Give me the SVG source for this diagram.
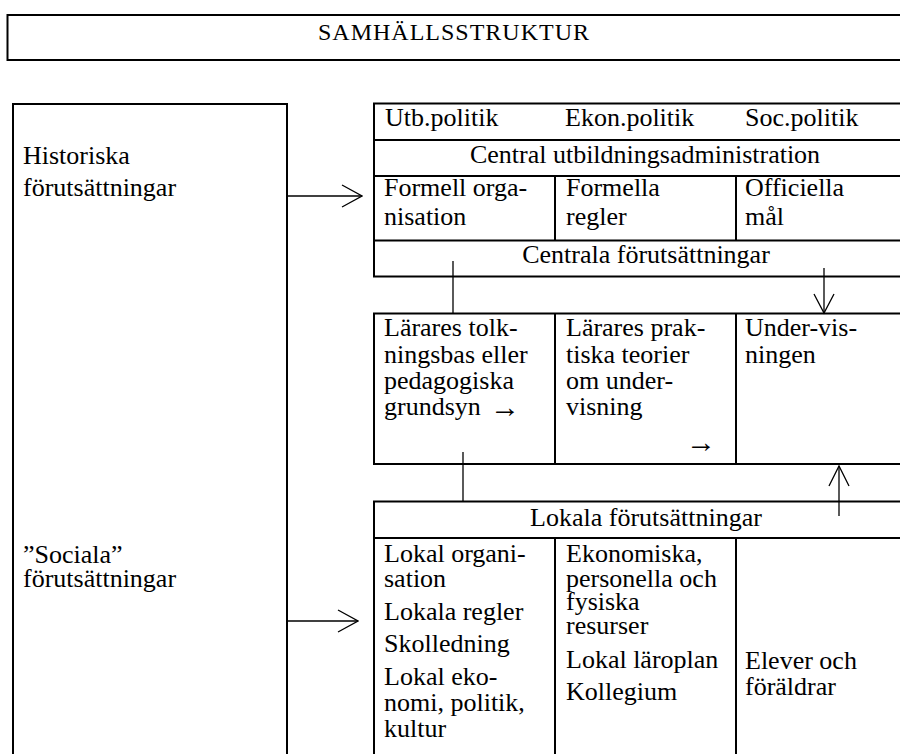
<svg xmlns="http://www.w3.org/2000/svg" width="900" height="754" viewBox="0 0 900 754">
<style>
  .box { fill: #ffffff; stroke: #000000; stroke-width: 2; }
  .div { stroke: #000000; stroke-width: 2; fill: none; }
  .con { stroke: #000000; stroke-width: 1.3; fill: none; }
  .mid { text-anchor: middle; }
  .arr { font-size: 30px; }
</style>
<defs>
  <marker id="chev" viewBox="0 0 22 24" markerWidth="22" markerHeight="24" refX="21" refY="12" orient="auto" markerUnits="userSpaceOnUse">
    <path d="M1,1 L21,12 L1,23" fill="none" stroke="#000000" stroke-width="1.3"/>
  </marker>
</defs>
<rect width="900" height="754" fill="#ffffff"/>

<g font-family="'Liberation Serif', 'Times New Roman', 'DejaVu Serif', serif" font-size="26" fill="#000000">

<g id="samhallsstruktur">
  <rect class="box" x="7.5" y="15" width="900" height="45"/>
  <text class="mid" x="454" y="40" font-size="24" letter-spacing="1">SAMHÄLLSSTRUKTUR</text>
</g>

<g id="forutsattningar-vanster">
  <rect class="box" x="13" y="104" width="274" height="660"/>
  <text x="23" y="164">Historiska</text>
  <text x="23" y="196">förutsättningar</text>
  <text x="23" y="563">”Sociala”</text>
  <text x="23" y="587">förutsättningar</text>
</g>

<g id="centrala-forutsattningar">
  <rect class="box" x="374" y="103.5" width="540" height="173"/>
  <line class="div" x1="374" y1="140" x2="914" y2="140"/>
  <line class="div" x1="374" y1="176" x2="914" y2="176"/>
  <line class="div" x1="374" y1="240.5" x2="914" y2="240.5"/>
  <line class="div" x1="555" y1="176" x2="555" y2="240.5"/>
  <line class="div" x1="736" y1="176" x2="736" y2="240.5"/>
  <text x="385" y="126">Utb.politik</text>
  <text x="565" y="126">Ekon.politik</text>
  <text x="745" y="126">Soc.politik</text>
  <text class="mid" x="645" y="163">Central utbildningsadministration</text>
  <text x="384" y="196">Formell orga-</text>
  <text x="384" y="225">nisation</text>
  <text x="566" y="196">Formella</text>
  <text x="566" y="225">regler</text>
  <text x="745" y="196">Officiella</text>
  <text x="745" y="225">mål</text>
  <text class="mid" x="646" y="263">Centrala förutsättningar</text>
</g>

<g id="larare-undervisning">
  <rect class="box" x="374" y="313.5" width="540" height="150.5"/>
  <line class="div" x1="555" y1="313.5" x2="555" y2="464"/>
  <line class="div" x1="736" y1="313.5" x2="736" y2="464"/>
  <text x="384" y="336">Lärares tolk-</text>
  <text x="384" y="363">ningsbas eller</text>
  <text x="384" y="389">pedagogiska</text>
  <text x="384" y="415">grundsyn</text>
  <text class="arr" x="490" y="417">→</text>
  <text x="566" y="336">Lärares prak-</text>
  <text x="566" y="363">tiska teorier</text>
  <text x="566" y="389">om under-</text>
  <text x="566" y="415">visning</text>
  <text class="arr" x="686" y="452">→</text>
  <text x="745" y="336">Under-vis-</text>
  <text x="745" y="363">ningen</text>
</g>

<g id="lokala-forutsattningar">
  <rect class="box" x="374" y="501.5" width="540" height="270"/>
  <line class="div" x1="374" y1="538" x2="914" y2="538"/>
  <line class="div" x1="555" y1="538" x2="555" y2="764"/>
  <line class="div" x1="736" y1="538" x2="736" y2="764"/>
  <text class="mid" x="646" y="526">Lokala förutsättningar</text>
  <text x="384" y="562">Lokal organi-</text>
  <text x="384" y="587">sation</text>
  <text x="384" y="620">Lokala regler</text>
  <text x="384" y="652">Skolledning</text>
  <text x="384" y="685">Lokal eko-</text>
  <text x="384" y="711">nomi, politik,</text>
  <text x="384" y="737">kultur</text>
  <text x="566" y="562">Ekonomiska,</text>
  <text x="566" y="587">personella och</text>
  <text x="566" y="610">fysiska</text>
  <text x="566" y="634">resurser</text>
  <text x="566" y="668">Lokal läroplan</text>
  <text x="566" y="700">Kollegium</text>
  <text x="745" y="669">Elever och</text>
  <text x="745" y="695">föräldrar</text>
</g>

</g>

<g id="connectors">
  <line class="con" x1="287" y1="196" x2="362" y2="196" marker-end="url(#chev)"/>
  <line class="con" x1="287" y1="621" x2="358" y2="621" marker-end="url(#chev)"/>
  <line class="con" x1="453" y1="261" x2="453" y2="313.5"/>
  <line class="con" x1="824" y1="268" x2="824" y2="313"/>
  <path class="con" d="M814,294 L824,313 L834,294"/>
  <line class="con" x1="463" y1="452" x2="463" y2="501.5"/>
  <line class="con" x1="839" y1="516" x2="839" y2="466"/>
  <path class="con" d="M829,486 L839,466 L849,486"/>
</g>
</svg>
